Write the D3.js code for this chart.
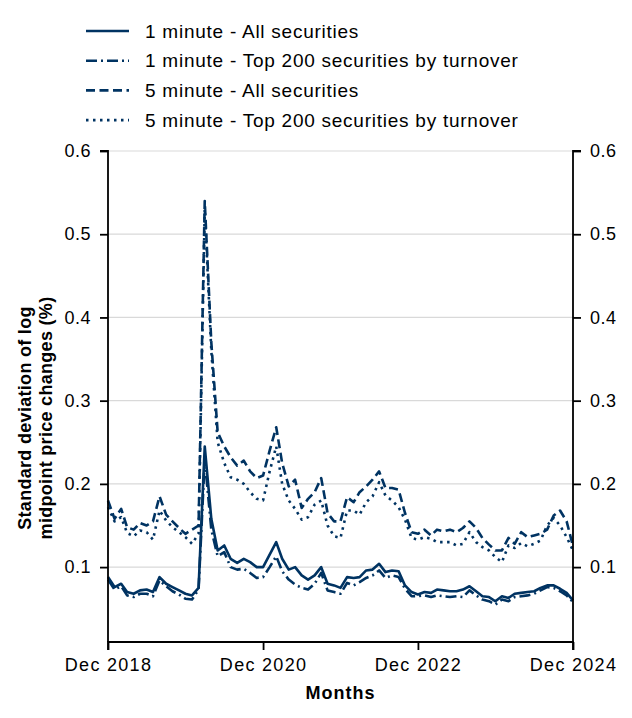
<!DOCTYPE html>
<html>
<head>
<meta charset="utf-8">
<script src="https://cdn.jsdelivr.net/npm/d3@7"></script>
<style>
  body { margin: 0; background: #fff; }
  svg { display: block; font-family: "Liberation Sans", Arial, sans-serif; }
</style>
</head>
<body>
<svg id="chart" width="632" height="718"></svg>
<script>
// Months: Dec 2018 .. Dec 2024 (73 monthly observations)
const months = d3.range(73).map(i => new Date(2018, 11 + i, 1));

const oneMinAll = [
  0.088,0.076,0.080,0.070,0.068,0.072,0.073,0.070,0.088,0.080,0.076,0.072,
  0.068,0.066,0.075,0.245,0.158,0.120,0.126,0.110,0.105,0.110,0.106,0.100,
  0.100,0.115,0.130,0.110,0.097,0.100,0.090,0.085,0.090,0.100,0.080,0.078,
  0.075,0.088,0.087,0.088,0.096,0.097,0.104,0.094,0.096,0.095,0.078,0.070,
  0.067,0.070,0.069,0.073,0.072,0.071,0.071,0.073,0.077,0.071,0.065,0.064,
  0.059,0.065,0.063,0.068,0.069,0.070,0.071,0.075,0.078,0.078,0.074,0.069,
  0.060
];
const oneMinTop200 = [
  0.085,0.073,0.077,0.066,0.064,0.068,0.068,0.065,0.084,0.077,0.071,0.067,
  0.062,0.061,0.073,0.230,0.145,0.113,0.118,0.100,0.097,0.098,0.093,0.087,
  0.088,0.100,0.113,0.095,0.085,0.079,0.075,0.073,0.080,0.093,0.072,0.070,
  0.068,0.081,0.078,0.082,0.087,0.090,0.096,0.087,0.090,0.088,0.074,0.065,
  0.065,0.066,0.064,0.066,0.065,0.064,0.065,0.064,0.072,0.066,0.061,0.059,
  0.055,0.061,0.059,0.064,0.065,0.066,0.068,0.072,0.076,0.075,0.071,0.066,
  0.058
];
const fiveMinAll = [
  0.180,0.158,0.170,0.148,0.145,0.153,0.150,0.155,0.185,0.163,0.155,0.147,
  0.140,0.145,0.150,0.540,0.370,0.262,0.245,0.232,0.222,0.228,0.215,0.207,
  0.210,0.240,0.268,0.225,0.197,0.205,0.171,0.182,0.190,0.207,0.165,0.155,
  0.155,0.184,0.178,0.190,0.197,0.205,0.215,0.195,0.195,0.193,0.165,0.142,
  0.140,0.145,0.138,0.145,0.143,0.145,0.142,0.147,0.155,0.147,0.135,0.127,
  0.120,0.120,0.135,0.128,0.142,0.136,0.138,0.140,0.145,0.162,0.168,0.155,
  0.125
];
const fiveMinTop200 = [
  0.172,0.155,0.160,0.141,0.137,0.144,0.142,0.133,0.168,0.156,0.148,0.142,
  0.136,0.128,0.140,0.530,0.360,0.250,0.225,0.208,0.205,0.200,0.190,0.182,
  0.180,0.215,0.245,0.200,0.180,0.170,0.157,0.160,0.175,0.180,0.150,0.137,
  0.135,0.168,0.168,0.163,0.178,0.185,0.202,0.186,0.180,0.172,0.157,0.135,
  0.133,0.136,0.134,0.130,0.130,0.130,0.126,0.128,0.142,0.130,0.124,0.120,
  0.112,0.106,0.126,0.123,0.129,0.125,0.128,0.132,0.150,0.159,0.150,0.136,
  0.120
];
const yTicks = [0.1, 0.2, 0.3, 0.4, 0.5, 0.6];
const xTickLabels = ["Dec 2018", "Dec 2020", "Dec 2022", "Dec 2024"];
const xTickDates = [new Date(2018,11,1), new Date(2020,11,1), new Date(2022,11,1), new Date(2024,11,1)];
const seriesNames = [
  "1 minute - All securities",
  "1 minute - Top 200 securities by turnover",
  "5 minute - All securities",
  "5 minute - Top 200 securities by turnover"
];

const color = "#003362";
const dashes = [null, "11,4,2,4", "9,4.5", "2.5,4.5"];
const seriesValues = [oneMinAll, oneMinTop200, fiveMinAll, fiveMinTop200];

const svg = d3.select("#chart");
const margin = {left: 108, right: 59, top: 151, bottom: 76};
const W = 632, H = 718;
const x = d3.scaleTime().domain([months[0], months[72]]).range([margin.left, W - margin.right]);
const y = d3.scaleLinear().domain([0.01, 0.6]).range([H - margin.bottom, margin.top]);

// gridlines
svg.append("g").selectAll("line").data(yTicks).join("line")
  .attr("x1", x.range()[0]).attr("x2", x.range()[1])
  .attr("y1", d => y(d)).attr("y2", d => y(d))
  .attr("stroke", "#d9d9d9").attr("stroke-width", 1.2);

// lines
const line = d3.line().x((d, i) => x(months[i])).y(d => y(d));
[3, 2, 1, 0].forEach(k => {
  svg.append("path").datum(seriesValues[k])
    .attr("d", line).attr("fill", "none")
    .attr("stroke", color).attr("stroke-width", 2.6)
    .attr("stroke-linejoin", "round")
    .attr("stroke-dasharray", dashes[k]);
});

// axes
const fmt = d3.format(".1f");
const leftAxis = svg.append("g").attr("transform", `translate(${margin.left},0)`)
  .call(d3.axisLeft(y).tickValues(yTicks).tickFormat(fmt).tickSize(8).tickPadding(9));
const rightAxis = svg.append("g").attr("transform", `translate(${W - margin.right},0)`)
  .call(d3.axisRight(y).tickValues(yTicks).tickFormat(fmt).tickSize(8).tickPadding(9));
const bottomAxis = svg.append("g").attr("transform", `translate(0,${H - margin.bottom})`)
  .call(d3.axisBottom(x).tickValues(xTickDates).tickFormat((d, i) => xTickLabels[i]).tickSize(8).tickPadding(8));
[leftAxis, rightAxis, bottomAxis].forEach(g => {
  g.select(".domain").attr("stroke", "#000").attr("stroke-width", 1.8);
  g.selectAll(".tick line").attr("stroke", "#000").attr("stroke-width", 1.8);
  g.selectAll(".tick text").attr("fill", "#000").style("font-size", "18px")
    .style("letter-spacing", "0.5px")
    .style("font-family", "'Liberation Sans', Arial, sans-serif");
});
bottomAxis.selectAll(".tick text").style("letter-spacing", "1.3px");
leftAxis.select(".domain").attr("d", `M-8,${y.range()[1]}H0V${y.range()[0]}`);
rightAxis.select(".domain").attr("d", `M8,${y.range()[1]}H0V${y.range()[0]}`);
bottomAxis.select(".domain").attr("d", `M${x.range()[0]},8V0H${x.range()[1]}V8`);

// axis titles
svg.append("text").attr("x", (x.range()[0] + x.range()[1]) / 2).attr("y", 699)
  .attr("text-anchor", "middle").style("font-size", "18px").style("font-weight", "bold")
  .style("letter-spacing", "1px")
  .text("Months");
const yt = svg.append("text").attr("transform", `translate(31,418) rotate(-90)`)
  .attr("text-anchor", "middle").style("font-size", "18px").style("font-weight", "bold")
  .style("letter-spacing", "0.3px");
yt.append("tspan").attr("x", 0).attr("dy", 0).text("Standard deviation of log");
yt.append("tspan").attr("x", 0).attr("dy", 21).text("midpoint price changes (%)");

// legend
const legend = svg.append("g");
seriesNames.forEach((name, k) => {
  const ly = 31 + k * 29.7;
  legend.append("line").attr("x1", 86).attr("x2", 129).attr("y1", ly).attr("y2", ly)
    .attr("stroke", color).attr("stroke-width", 2.6).attr("stroke-dasharray", dashes[k]);
  legend.append("text").attr("x", 145).attr("y", ly).attr("dy", "0.35em")
    .style("font-size", "19px").style("letter-spacing", "0.75px")
    .attr("fill", "#000").text(name);
});
</script>
</body>
</html>
